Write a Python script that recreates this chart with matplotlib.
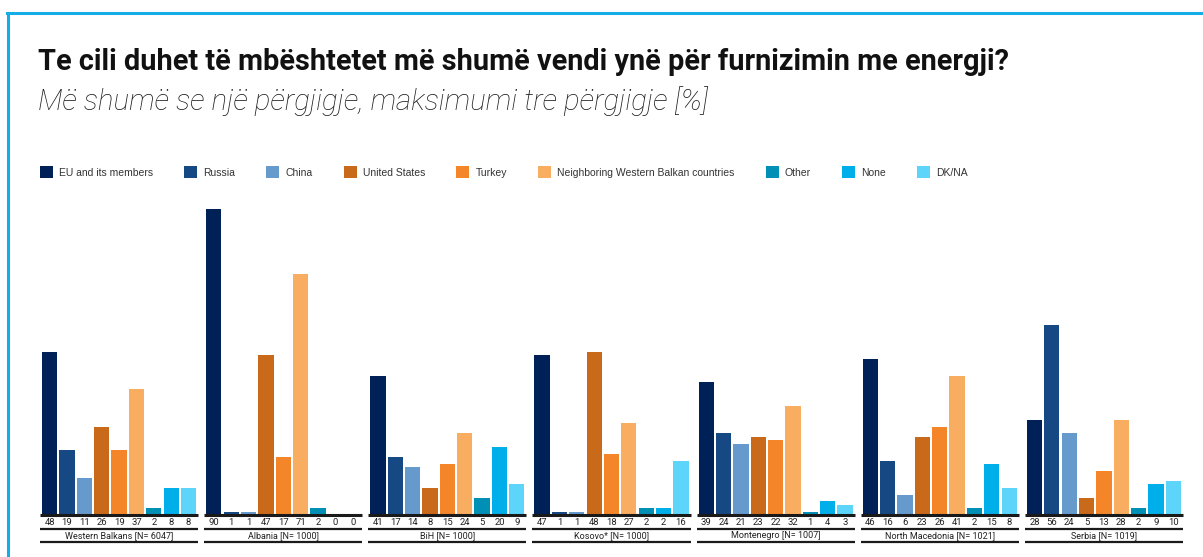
import matplotlib
matplotlib.use("Agg")
import matplotlib.pyplot as plt
from matplotlib.lines import Line2D
from matplotlib.patches import Patch
from matplotlib import transforms

# --- data -----------------------------------------------------------------
series = ["EU and its members", "Russia", "China", "United States", "Turkey",
          "Neighboring Western Balkan countries", "Other", "None", "DK/NA"]
colors = ["#002157", "#164883", "#6699CC", "#C96A1B", "#F58529",
          "#F9AD60", "#008FB5", "#00AEEA", "#5DD5FA"]
groups = ["Western Balkans [N= 6047]", "Albania [N= 1000]", "BiH [N= 1000]",
          "Kosovo* [N= 1000]", "Montenegro [N= 1007]",
          "North Macedonia [N= 1021]", "Serbia [N= 1019]"]
western_balkans = [48, 19, 11, 26, 19, 37, 2, 8, 8]
albania = [90, 1, 1, 47, 17, 71, 2, 0, 0]
bih = [41, 17, 14, 8, 15, 24, 5, 20, 9]
kosovo = [47, 1, 1, 48, 18, 27, 2, 2, 16]
montenegro = [39, 24, 21, 23, 22, 32, 1, 4, 3]
north_macedonia = [46, 16, 6, 23, 26, 41, 2, 15, 8]
serbia = [28, 56, 24, 5, 13, 28, 2, 9, 10]
values = [western_balkans, albania, bih, kosovo, montenegro,
          north_macedonia, serbia]

TITLE = "Te cili duhet të mbështetet më shumë vendi ynë për furnizimin me energji?"
SUBTITLE = "Më shumë se një përgjigje, maksimumi tre përgjigje [%]"

W, H = 1203, 557
GPITCH = 9.46   # group pitch in bar units
BW = 0.88
PAD = 0.56

fig = plt.figure(figsize=(W / 100, H / 100), dpi=100)
ax = fig.add_axes([40 / W, (H - 515) / H, 1143 / W, 340 / H])

for g, vals in enumerate(values):
    x0 = g * GPITCH
    for i, v in enumerate(vals):
        ax.bar(x0 + i, v, width=BW, color=colors[i], linewidth=0)

trans = transforms.blended_transform_factory(ax.transData, ax.transAxes)
for g, vals in enumerate(values):
    x0 = g * GPITCH
    xl, xr = x0 - PAD, x0 + len(vals) - 1 + PAD
    ax.plot([xl, xr], [0, 0], color="#1a1a1a", lw=2.2, transform=trans,
            clip_on=False, solid_capstyle="butt")
    for i, v in enumerate(vals):
        ax.text(x0 + i, -7.5 / 340, str(v), transform=trans, ha="center",
                va="center", fontsize=6.8, color="#222222", family="Roboto")
    ax.plot([xl, xr], [-13.7 / 340] * 2, color="#1a1a1a", lw=1.6,
            transform=trans, clip_on=False, solid_capstyle="butt")
    ax.text(x0 + (len(vals) - 1) / 2, -20.5 / 340, groups[g], transform=trans,
            ha="center", va="center", fontsize=6.5, color="#222222",
            family="Roboto")
    ax.plot([xl, xr], [-27 / 340] * 2, color="#1a1a1a", lw=1.6,
            transform=trans, clip_on=False, solid_capstyle="butt")

ax.set_xlim(-PAD, 6 * GPITCH + 8 + PAD)
ax.set_ylim(0, 100)
ax.axis("off")

# blue frame
fig.add_artist(Line2D([7 / W, 1], [1 - 12.5 / H] * 2, color="#14ADE5", lw=2.2))
fig.add_artist(Line2D([7.7 / W] * 2, [0, 1 - 12.5 / H], color="#14ADE5", lw=2.2))

fig.text(38 / W, 1 - 62 / H, TITLE, fontsize=20.8, fontweight="bold",
         family="Roboto", va="center", ha="left", color="#111111")
fig.text(38 / W, 1 - 101 / H, SUBTITLE, fontsize=21.2, fontstyle="italic",
         fontweight="light", family="Roboto", va="center", ha="left",
         color="#1a1a1a")

handles = [Patch(facecolor=c, edgecolor="none") for c in colors]
fig.legend(handles, series, loc="center left",
           bbox_to_anchor=(40 / W, 1 - 172 / H), ncol=9, frameon=False,
           prop={"family": "Liberation Sans", "size": 7.5},
           handlelength=1.25, handleheight=1.25, handletextpad=0.6,
           columnspacing=2.97, borderpad=0, borderaxespad=0,
           labelcolor="#333333")

plt.savefig("out.png", dpi=100)
plt.close()
